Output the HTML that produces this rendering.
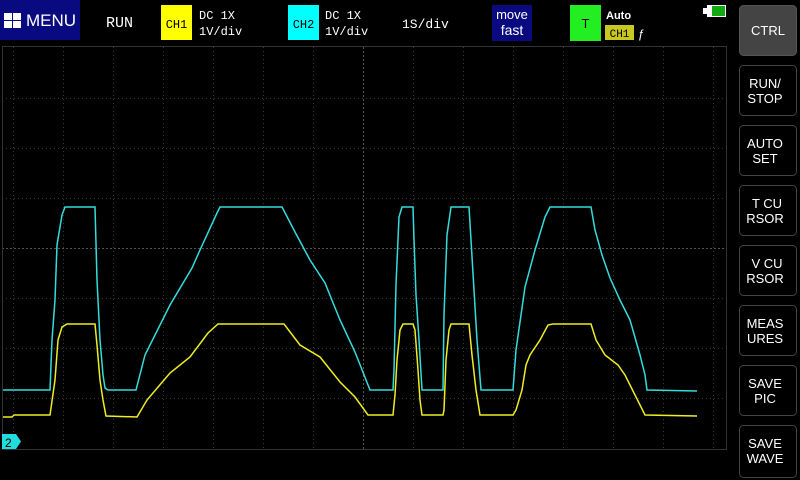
<!DOCTYPE html>
<html><head><meta charset="utf-8"><style>
body{margin:0;background:#000;width:800px;height:480px;overflow:hidden;font-family:"Liberation Sans",sans-serif;}
</style></head><body>
<svg width="800" height="480" xmlns="http://www.w3.org/2000/svg" style="position:absolute;left:0;top:0">
<rect width="800" height="480" fill="#000"/>
<!-- top bar -->
<rect x="0" y="0" width="80" height="40" fill="#0a0a80"/>
<g fill="#fff"><rect x="4" y="13" width="8" height="7"/><rect x="13" y="13" width="8" height="7"/><rect x="4" y="21" width="8" height="7"/><rect x="13" y="21" width="8" height="7"/></g>
<text x="26" y="26" fill="#fff" font-size="17" font-family="Liberation Sans">MENU</text>
<text x="106" y="27" fill="#fff" font-size="15" font-family="Liberation Mono">RUN</text>
<rect x="161" y="5" width="31" height="35" fill="#ffff00"/>
<text x="176.5" y="28" fill="#000" font-size="12" text-anchor="middle" font-family="Liberation Mono">CH1</text>
<text x="199" y="19" fill="#fff" font-size="12" font-family="Liberation Mono">DC  1X</text>
<text x="199" y="35" fill="#fff" font-size="12" font-family="Liberation Mono">1V/div</text>
<rect x="288" y="5" width="31" height="35" fill="#00ffff"/>
<text x="303.5" y="28" fill="#000" font-size="12" text-anchor="middle" font-family="Liberation Mono">CH2</text>
<text x="325" y="19" fill="#fff" font-size="12" font-family="Liberation Mono">DC  1X</text>
<text x="325" y="35" fill="#fff" font-size="12" font-family="Liberation Mono">1V/div</text>
<text x="402" y="28" fill="#fff" font-size="13" font-family="Liberation Mono">1S/div</text>
<rect x="492" y="5" width="40" height="36" fill="#0a0a80"/>
<text x="512" y="19" fill="#fff" font-size="13" text-anchor="middle" font-family="Liberation Sans">move</text>
<text x="512" y="35" fill="#fff" font-size="14" text-anchor="middle" font-family="Liberation Sans">fast</text>
<rect x="570" y="5" width="31" height="36" fill="#22ee22"/>
<text x="585.5" y="28" fill="#000" font-size="13" text-anchor="middle" font-family="Liberation Sans">T</text>
<text x="606" y="19" fill="#fff" font-size="11" font-weight="bold" font-family="Liberation Sans">Auto</text>
<rect x="605" y="25" width="29" height="15" fill="#c8c820"/>
<text x="619.5" y="37" fill="#000" font-size="11" text-anchor="middle" font-family="Liberation Mono">CH1</text>
<text x="638" y="38" fill="#fff" font-size="12" font-family="Liberation Sans">ƒ</text>
<rect x="703" y="8" width="4" height="6" fill="#fff"/>
<rect x="707" y="5" width="19" height="12" fill="#fff"/>
<rect x="712" y="6" width="13" height="10" fill="#11aa11"/>
<!-- grid -->
<g stroke="#3a3a3a" stroke-width="1" stroke-dasharray="1,3">
<line x1="13.5" y1="47" x2="13.5" y2="449"/><line x1="63.5" y1="47" x2="63.5" y2="449"/><line x1="113.5" y1="47" x2="113.5" y2="449"/><line x1="163.5" y1="47" x2="163.5" y2="449"/><line x1="213.5" y1="47" x2="213.5" y2="449"/><line x1="263.5" y1="47" x2="263.5" y2="449"/><line x1="313.5" y1="47" x2="313.5" y2="449"/><line x1="413.5" y1="47" x2="413.5" y2="449"/><line x1="463.5" y1="47" x2="463.5" y2="449"/><line x1="513.5" y1="47" x2="513.5" y2="449"/><line x1="563.5" y1="47" x2="563.5" y2="449"/><line x1="613.5" y1="47" x2="613.5" y2="449"/><line x1="663.5" y1="47" x2="663.5" y2="449"/><line x1="713.5" y1="47" x2="713.5" y2="449"/>
<line x1="2" y1="98.5" x2="726" y2="98.5"/><line x1="2" y1="148.5" x2="726" y2="148.5"/><line x1="2" y1="198.5" x2="726" y2="198.5"/><line x1="2" y1="298.5" x2="726" y2="298.5"/><line x1="2" y1="348.5" x2="726" y2="348.5"/><line x1="2" y1="398.5" x2="726" y2="398.5"/>
</g>
<g stroke="#555" stroke-width="1" stroke-dasharray="2,2">
<line x1="363.5" y1="47" x2="363.5" y2="449"/><line x1="2" y1="248.5" x2="726" y2="248.5"/>
</g>
<rect x="2.5" y="46.5" width="724" height="403" fill="none" stroke="#333"/>
<!-- traces -->
<polyline fill="none" stroke="#33dddd" stroke-width="1.5" points="3,390 50,390 52,340 55,300 57,245 62,215 65,207 95,207 97,280 98,300 100,340 103,375 105,388 108,390 136,390 145,355 170,305 192,268 200,250 217,213 220,207 282,207 295,232 310,260 325,283 340,320 355,352 370,390 393,390 394,370 396,285 399,217 402,207 413,207 414,240 416,295 419,340 422,390 443,390 444,315 447,235 451,207 469,207 471,240 474,290 477,340 481,390 513,390 516,350 525,287 535,250 545,217 550,207 591,207 595,230 602,255 610,278 620,300 630,320 640,355 645,375 647,390 697,391"/>
<polyline fill="none" stroke="#eeee22" stroke-width="1.5" points="3,417 12,417 14,415 50,415 55,380 58,340 62,327 67,324 95,324 97,345 100,380 103,400 106,416 137,417 147,400 170,373 190,357 208,333 218,324 284,324 300,345 320,357 340,382 355,397 368,415 393,415 395,395 397,360 400,330 403,324 413,324 415,330 418,370 420,400 422,415 443,415 444,410 446,360 449,330 451,324 469,324 472,355 476,390 480,415 513,415 516,410 522,390 526,365 530,355 540,340 548,325 553,324 591,324 596,340 605,355 618,365 625,375 635,395 645,415 697,416"/>
<!-- ch2 marker -->
<polygon points="2,434 16,434 21,441.5 16,449 2,449" fill="#22dddd"/>
<text x="5" y="447" fill="#000" font-size="12" font-family="Liberation Sans">2</text>
<!-- right buttons -->
<g font-family="Liberation Sans" font-size="13" fill="#fff" text-anchor="middle">
<rect x="739.5" y="5.5" width="57" height="50" rx="4" fill="#444" stroke="#555"/>
<text x="768" y="35">CTRL</text>
<rect x="739.5" y="65.5" width="57" height="50" rx="4" fill="#000" stroke="#444"/>
<text x="765" y="88">RUN/</text><text x="765" y="103">STOP</text>
<rect x="739.5" y="125.5" width="57" height="50" rx="4" fill="#000" stroke="#444"/>
<text x="765" y="148">AUTO</text><text x="765" y="163">SET</text>
<rect x="739.5" y="185.5" width="57" height="50" rx="4" fill="#000" stroke="#444"/>
<text x="767" y="208">T  CU</text><text x="765" y="223">RSOR</text>
<rect x="739.5" y="245.5" width="57" height="50" rx="4" fill="#000" stroke="#444"/>
<text x="767" y="268">V  CU</text><text x="765" y="283">RSOR</text>
<rect x="739.5" y="305.5" width="57" height="50" rx="4" fill="#000" stroke="#444"/>
<text x="765" y="328">MEAS</text><text x="765" y="343">URES</text>
<rect x="739.5" y="365.5" width="57" height="50" rx="4" fill="#000" stroke="#444"/>
<text x="765" y="388">SAVE</text><text x="765" y="403">PIC</text>
<rect x="739.5" y="425.5" width="57" height="52" rx="4" fill="#000" stroke="#444"/>
<text x="765" y="448">SAVE</text><text x="765" y="463">WAVE</text>
</g>
</svg>
</body></html>
